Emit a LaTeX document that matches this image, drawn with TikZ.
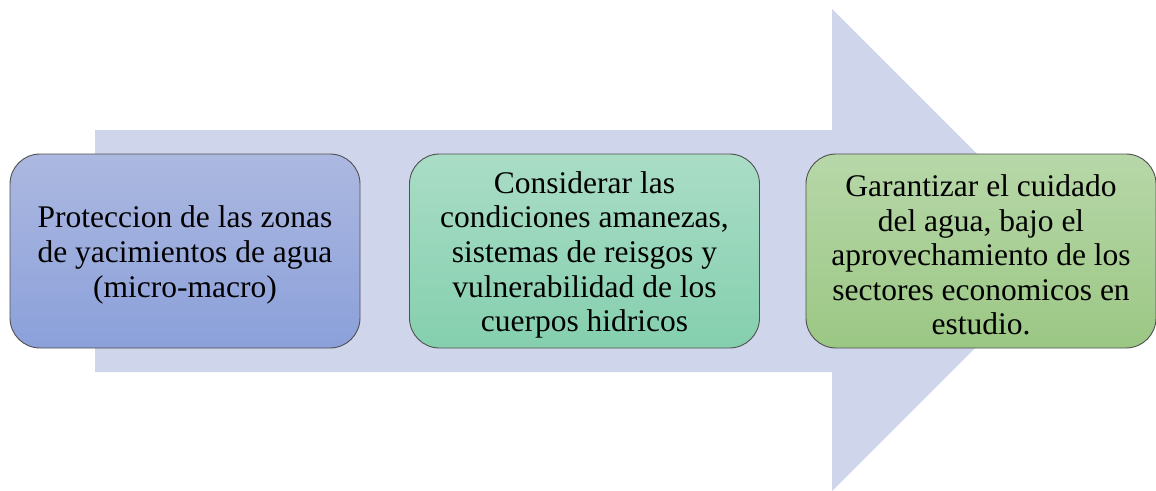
\documentclass[tikz,border=0pt]{standalone}
\usepackage{fontspec}
\setmainfont{Liberation Serif}
\definecolor{arrowfill}{RGB}{207,213,234}
\definecolor{bAtop}{RGB}{172,184,224}
\definecolor{bAbot}{RGB}{139,160,218}
\definecolor{bBtop}{RGB}{170,221,198}
\definecolor{bBbot}{RGB}{132,207,174}
\definecolor{bCtop}{RGB}{183,215,168}
\definecolor{bCbot}{RGB}{155,199,132}
\definecolor{edge}{RGB}{80,80,80}
\begin{document}
\begin{tikzpicture}[x=1pt,y=-1pt,
  stepbox/.style={draw=edge, line width=0.9pt, rounded corners=30pt,
    minimum width=350pt, minimum height=194pt, inner sep=0pt},
  steptext/.style={align=center, text=black, inner sep=0pt,
    font=\fontsize{31.5}{34.6}\selectfont}]
\useasboundingbox (0,0) rectangle (1156,490);
\fill[arrowfill] (95,130) -- (832,130) -- (832,9) -- (1073,250) -- (832,491)
  -- (832,372) -- (95,372) -- cycle;
\node[stepbox, top color=bAtop, bottom color=bAbot] (b1) at (185,251) {};
\node[steptext] (t1) at ([yshift=-4pt]b1.center)
  {Proteccion de las zonas\\de yacimientos de agua\\(micro-macro)};
\node[stepbox, top color=bBtop, bottom color=bBbot] (b2) at (584.5,251) {};
\node[steptext] (t2) at ([yshift=-4pt]b2.center)
  {Considerar las\\condiciones amanezas,\\sistemas de reisgos y\\vulnerabilidad de los\\cuerpos hidricos};
\node[stepbox, top color=bCtop, bottom color=bCbot] (b3) at (981,251) {};
\node[steptext] (t3) at ([yshift=-4pt]b3.center)
  {Garantizar el cuidado\\del agua, bajo el\\aprovechamiento de los\\sectores economicos en\\estudio.};
\end{tikzpicture}
\end{document}
